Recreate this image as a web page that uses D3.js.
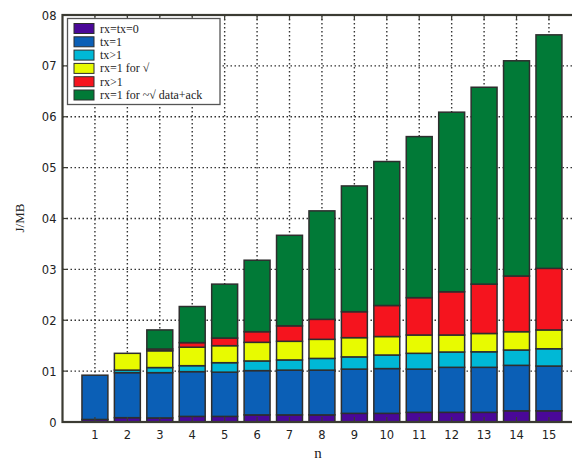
<!DOCTYPE html>
<html><head><meta charset="utf-8">
<script src="https://cdn.jsdelivr.net/npm/d3@7"></script>
<style>body{margin:0;background:#fff;}svg{display:block;}</style>
</head><body>
<svg id="c" width="572" height="461"></svg>
<script>
const categories = [1,2,3,4,5,6,7,8,9,10,11,12,13,14,15];
const seriesNames = ["rx=tx=0","tx=1","tx>1","rx=1 for \u221A","rx>1","rx=1 for ~\u221A data+ack"];
const seriesColors = ["#4a0898","#0b5fb6","#00b8d6","#e8fb00","#f5141e","#017a37"];
const rxTx0   = [0.005,0.0085,0.008,0.011,0.011,0.014,0.014,0.014,0.017,0.017,0.019,0.019,0.019,0.022,0.022];
const tx1     = [0.087,0.0885,0.089,0.088,0.087,0.087,0.088,0.088,0.087,0.088,0.085,0.0885,0.0885,0.0894,0.088];
const txGt1   = [0,0.005,0.010,0.0117,0.0186,0.019,0.020,0.023,0.024,0.0267,0.031,0.0301,0.0305,0.0301,0.034];
const rx1ok   = [0,0.033,0.033,0.0363,0.0334,0.0366,0.0366,0.0375,0.0378,0.0363,0.036,0.0334,0.036,0.036,0.037];
const rxGt1   = [0,0,0.0035,0.009,0.015,0.0209,0.0304,0.0393,0.051,0.061,0.0734,0.085,0.097,0.1095,0.121];
const rx1data = [0,0,0.0375,0.071,0.106,0.1405,0.178,0.2132,0.2472,0.283,0.3166,0.353,0.387,0.423,0.459];
const yTicks = [0,0.1,0.2,0.3,0.4,0.5,0.6,0.7,0.8];
const yTickLabels = ["0","01","02","03","04","05","06","07","08"];
const xLabel = "n";
const yLabel = "J/MB";

(function(){
const series = [rxTx0, tx1, txGt1, rx1ok, rxGt1, rx1data];
const table = categories.map((c,i)=>{const o={n:c}; series.forEach((s,k)=>o["s"+k]=s[i]); return o;});
const keys = series.map((_,k)=>"s"+k);
const stacked = d3.stack().keys(keys)(table);

const svg = d3.select("#c");
const pl=62.5, pt=15, pb=422;
const x = d3.scaleLinear().domain([0,16]).range([pl, pl+16*32.43]);
const y = d3.scaleLinear().domain([0,0.8]).range([pb, pt]);
const pr = x(16);
const axisCol = "#3b3b33";

const g = svg.append("g");
g.selectAll("line.vg").data(categories).join("line")
  .attr("x1",d=>x(d)).attr("x2",d=>x(d)).attr("y1",pt).attr("y2",pb)
  .attr("stroke","#333").attr("stroke-width",1.4).attr("stroke-dasharray","1.5,2.5");
g.selectAll("line.hg").data(yTicks.slice(1,-1)).join("line")
  .attr("y1",d=>y(d)).attr("y2",d=>y(d)).attr("x1",pl).attr("x2",pr)
  .attr("stroke","#333").attr("stroke-width",1.4).attr("stroke-dasharray","1.5,2.5");

const bw = 0.8;
svg.append("g").selectAll("g").data(stacked).join("g")
  .attr("fill",(d,i)=>seriesColors[i])
  .selectAll("rect").data(d=>d.filter(v=>v[1]-v[0]>0)).join("rect")
  .attr("x",d=>x(d.data.n-bw/2)).attr("width",x(bw)-x(0))
  .attr("y",d=>y(d[1])).attr("height",d=>y(d[0])-y(d[1]))
  .attr("stroke","#2e2e2e").attr("stroke-width",1.5);

svg.append("rect").attr("x",pl).attr("y",pt).attr("width",pr-pl).attr("height",pb-pt)
  .attr("fill","none").attr("stroke",axisCol).attr("stroke-width",2.2);

const ax = svg.append("g");
ax.selectAll("line.yt").data(yTicks).join("line")
  .attr("x1",pl).attr("x2",pl+5).attr("y1",d=>y(d)).attr("y2",d=>y(d))
  .attr("stroke",axisCol).attr("stroke-width",1.2);
ax.selectAll("line.xt").data(categories).join("line")
  .attr("x1",d=>x(d)).attr("x2",d=>x(d)).attr("y1",pb).attr("y2",pb-5)
  .attr("stroke",axisCol).attr("stroke-width",1.2);
ax.selectAll("line.xt2").data(categories).join("line")
  .attr("x1",d=>x(d)).attr("x2",d=>x(d)).attr("y1",pt).attr("y2",pt+5)
  .attr("stroke",axisCol).attr("stroke-width",1.2);

ax.selectAll("text.yl").data(yTicks).join("text")
  .attr("x",pl-6).attr("y",(d)=>y(d)+4.5).attr("text-anchor","end")
  .attr("font-family","DejaVu Sans, sans-serif").attr("font-size",11.5).attr("fill","#222")
  .text((d,i)=>yTickLabels[i]);
ax.selectAll("text.xl").data(categories).join("text")
  .attr("x",d=>x(d)).attr("y",pb+17).attr("text-anchor","middle")
  .attr("font-family","DejaVu Sans, sans-serif").attr("font-size",11.5).attr("fill","#222")
  .text(d=>d);

svg.append("text").attr("x",318).attr("y",458).attr("text-anchor","middle")
  .attr("font-family","Liberation Serif, serif").attr("font-size",15).attr("fill","#222").text(xLabel);
svg.append("text").attr("transform","translate(24,218) rotate(-90)").attr("text-anchor","middle")
  .attr("font-family","Liberation Serif, serif").attr("font-size",13).attr("fill","#222").text(yLabel);

const lg = svg.append("g");
lg.append("rect").attr("x",67.5).attr("y",18.5).attr("width",152.5).attr("height",86)
  .attr("fill","#fff").attr("stroke","#555").attr("stroke-width",1.3);
const rowY = i => 28.5 + i*13.3;
lg.selectAll("rect.sw").data(seriesNames).join("rect")
  .attr("x",74).attr("y",(d,i)=>rowY(i)-5).attr("width",20).attr("height",10)
  .attr("fill",(d,i)=>seriesColors[i]).attr("stroke","#2e2e2e").attr("stroke-width",1);
lg.selectAll("text.lt").data(seriesNames).join("text")
  .attr("x",100).attr("y",(d,i)=>rowY(i)+4)
  .attr("font-family","Liberation Serif, serif").attr("font-size",12).attr("fill","#222")
  .text(d=>d);
})();
</script>
</body></html>
